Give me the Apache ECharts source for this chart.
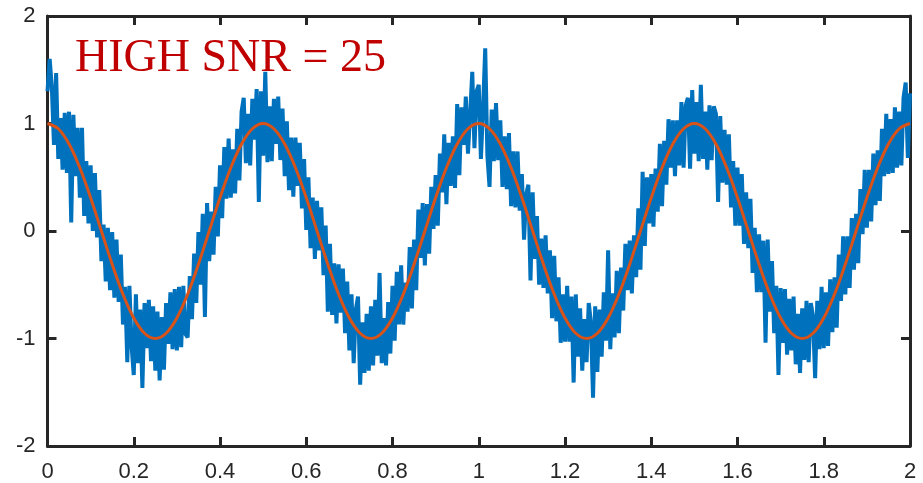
<!DOCTYPE html>
<html>
<head>
<meta charset="utf-8">
<script src="https://cdn.jsdelivr.net/npm/echarts@6/dist/echarts.min.js"></script>
<style>
html,body{margin:0;padding:0;background:#fff;}
#chart{width:923px;height:483px;}
</style>
</head>
<body>
<div id="chart"></div>
<script>
// Time span of both signals (seconds)
const tStart = 0;
const tEnd = 2;

// Noisy measured signal (blue), 401 samples evenly spaced over [0, 2]
const noisySignal = [
1.30,1.60,1.34,0.80,1.47,0.67,1.05,0.57,1.10,0.54,1.11,0.08,1.08,0.51,0.96,0.31,0.96,0.14,0.65,0.07,
0.61,0.00,0.54,-0.06,0.38,-0.28,0.06,-0.47,0.03,-0.55,-0.01,-0.62,-0.08,-0.66,-0.22,-0.87,-0.52,-1.22,-0.51,-1.07,
-1.34,-0.59,-1.23,-0.73,-1.46,-0.67,-1.09,-0.64,-1.21,-0.70,-1.30,-0.75,-1.39,-0.80,-1.29,-0.67,-1.05,-0.57,-1.10,-0.54,
-1.11,-0.52,-1.08,-0.51,-0.96,-0.99,-0.42,-0.82,-0.21,-0.67,-0.01,-0.50,0.16,-0.80,0.26,-0.28,0.18,-0.22,0.41,-0.05,
0.61,0.12,0.78,0.30,0.86,0.31,0.76,0.35,0.95,0.47,1.11,1.24,0.63,1.09,0.61,1.23,0.85,1.32,0.27,1.30,
0.70,1.48,0.64,1.16,0.65,1.23,0.81,1.25,0.66,1.14,0.51,1.02,0.38,0.87,0.32,0.87,0.42,0.82,0.21,0.67,
0.01,0.50,-0.16,0.31,-0.26,0.28,-0.18,0.22,-0.41,0.05,-0.75,-0.12,-0.78,-0.30,-0.86,-0.31,-0.76,-0.35,-0.95,-0.47,
-1.11,-0.59,-1.23,-0.73,-0.61,-1.43,-0.85,-1.32,-0.77,-1.30,-0.70,-1.25,-0.64,-1.16,-0.39,-1.23,-0.81,-1.25,-0.66,-1.14,
-0.51,-1.02,-0.38,-0.87,-0.32,-0.87,-0.48,-0.75,-0.15,-0.72,-0.08,-0.55,0.20,-0.25,0.26,-0.32,0.25,-0.21,0.41,0.02,
0.52,0.05,0.72,0.36,0.90,0.25,0.82,0.42,0.88,0.40,1.18,0.52,1.15,0.80,1.25,0.72,1.09,1.48,0.77,1.30,
1.36,0.67,1.14,1.70,0.70,0.41,1.13,0.65,1.19,0.66,1.03,0.41,0.88,0.39,0.91,0.23,0.74,0.22,0.74,0.19,
0.53,-0.08,0.34,0.43,-0.46,0.36,-0.26,0.14,-0.50,-0.07,-0.53,-0.04,-0.58,-0.18,-0.81,-0.23,-0.84,-0.43,-1.04,-0.59,
-1.03,-0.51,-1.03,-0.61,-1.41,-0.59,-1.17,-0.72,-1.30,-0.82,-1.22,-0.67,-0.84,-1.55,-0.70,-1.31,-0.73,-1.17,-0.57,-1.02,
-0.18,-1.10,-0.58,-0.99,-0.37,-0.95,-0.34,-0.74,-0.12,-0.55,-0.09,-0.58,-0.04,-0.43,0.21,-0.36,0.55,-0.14,0.50,0.07,
0.53,0.04,0.58,0.18,0.81,0.23,0.84,0.43,1.04,0.59,1.03,0.51,1.03,0.61,1.20,0.59,1.17,1.24,0.58,1.31,
0.72,1.20,0.65,1.36,0.67,1.11,0.57,1.17,0.66,1.16,1.09,0.27,1.07,0.45,0.94,0.43,0.90,0.22,0.65,0.05,
0.59,0.05,0.53,-0.12,0.36,-0.16,0.30,-0.39,0.03,-0.57,-0.03,-0.57,-0.09,-1.04,-0.08,-0.75,-0.28,-0.95,-0.51,-1.34,
-0.53,-1.04,-0.54,-1.15,-0.63,-1.11,-0.61,-1.24,-0.77,-1.32,-0.72,-1.20,-0.65,-1.22,-0.67,-0.79,-1.37,-0.65,-1.10,-0.52,
-1.09,-0.57,-1.07,-0.45,-0.94,-0.43,-0.90,-0.22,-0.65,-0.05,-0.59,-0.05,-0.53,0.12,-0.36,0.16,-0.30,0.39,-0.03,0.57,
0.03,0.57,0.09,0.72,0.24,0.75,0.28,0.95,0.51,1.09,0.53,1.04,0.54,1.15,0.59,1.11,0.61,1.24,1.38,0.68,
1.28
];

// Clean reference signal (orange), 81 samples evenly spaced over [0, 2]
const cleanSignal = [
1,0.951,0.809,0.588,0.309,0,-0.309,-0.588,-0.809,-0.951,-1,-0.951,-0.809,-0.588,-0.309,0,0.309,0.588,0.809,0.951,
1,0.951,0.809,0.588,0.309,0,-0.309,-0.588,-0.809,-0.951,-1,-0.951,-0.809,-0.588,-0.309,0,0.309,0.588,0.809,0.951,
1,0.951,0.809,0.588,0.309,0,-0.309,-0.588,-0.809,-0.951,-1,-0.951,-0.809,-0.588,-0.309,0,0.309,0.588,0.809,0.951,
1,0.951,0.809,0.588,0.309,0,-0.309,-0.588,-0.809,-0.951,-1,-0.951,-0.809,-0.588,-0.309,0,0.309,0.588,0.809,0.951,
1
];

// Axis ticks
const xTicks = [0,0.2,0.4,0.6,0.8,1,1.2,1.4,1.6,1.8,2];
const yTicks = [-2,-1,0,1,2];
const annotation = 'HIGH SNR = 25';

function toPairs(arr){
  const n = arr.length;
  return arr.map((v,i)=>[tStart + (tEnd - tStart) * i / (n - 1), v]);
}

const axisColor = '#262626';
const labelFont = {color: axisColor, fontSize: 22, fontFamily: 'Liberation Sans, Arial, sans-serif'};

const chart = echarts.init(document.getElementById('chart'), null, {renderer:'canvas'});
chart.setOption({
  animation: false,
  backgroundColor: '#fff',
  grid: {left: 47.5, right: 13, top: 16, bottom: 37, containLabel: false},
  xAxis: [
    {type:'value', position:'bottom', min: xTicks[0], max: xTicks[xTicks.length-1], interval: 0.2,
     axisLine:{show:true, onZero:false, lineStyle:{color:axisColor, width:3}},
     axisTick:{show:true, inside:true, length:9, lineStyle:{color:axisColor, width:3}},
     axisLabel:{show:true, margin:15, ...labelFont, formatter: v => String(+v.toFixed(1))},
     splitLine:{show:false}},
    {type:'value', position:'top', min: xTicks[0], max: xTicks[xTicks.length-1], interval: 0.2,
     axisLine:{show:true, onZero:false, lineStyle:{color:axisColor, width:3}},
     axisTick:{show:true, inside:true, length:9, lineStyle:{color:axisColor, width:3}},
     axisLabel:{show:false}, splitLine:{show:false}}
  ],
  yAxis: [
    {type:'value', position:'left', min: yTicks[0], max: yTicks[yTicks.length-1], interval: 1,
     axisLine:{show:true, onZero:false, lineStyle:{color:axisColor, width:3}},
     axisTick:{show:true, inside:true, length:9, lineStyle:{color:axisColor, width:3}},
     axisLabel:{show:true, margin:12, ...labelFont},
     splitLine:{show:false}},
    {type:'value', position:'right', min: yTicks[0], max: yTicks[yTicks.length-1], interval: 1,
     axisLine:{show:true, onZero:false, lineStyle:{color:axisColor, width:3}},
     axisTick:{show:true, inside:true, length:9, lineStyle:{color:axisColor, width:3}},
     axisLabel:{show:false}, splitLine:{show:false}}
  ],
  series: [
    {type:'line', data: toPairs(noisySignal), symbol:'none', xAxisIndex:0, yAxisIndex:0,
     lineStyle:{color:'#0072BD', width:4, join:'miter', miterLimit:1.5}, z:2},
    {type:'line', data: toPairs(cleanSignal), symbol:'none', smooth:0.35, xAxisIndex:0, yAxisIndex:0,
     lineStyle:{color:'#D95319', width:3}, z:3}
  ],
  graphic: [
    {type:'text', left: 75, top: 36, z: 10,
     style:{text: annotation, fill:'#C00000', font: '46px "Liberation Serif", serif'}}
  ]
});
</script>
</body>
</html>
